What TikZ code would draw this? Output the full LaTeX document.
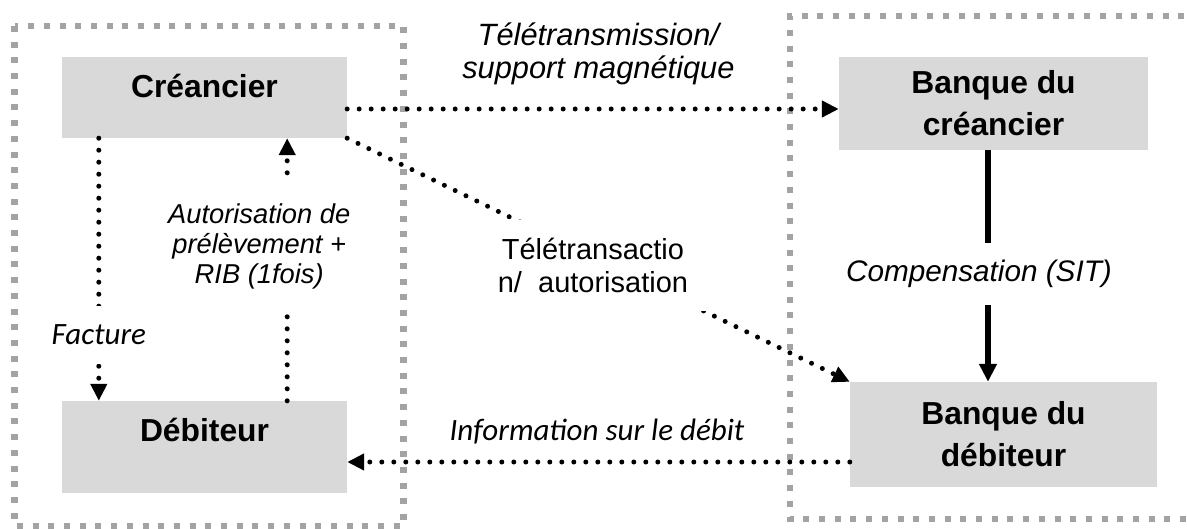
\documentclass[tikz,border=0pt]{standalone}
\usepackage{fontspec}
\setmainfont{Liberation Sans}
\newfontfamily\calibri{Carlito}
\usetikzlibrary{arrows.meta, positioning}
\definecolor{boxgray}{HTML}{D9D9D9}
\definecolor{framegray}{HTML}{A3A3A3}

\begin{document}
\begin{tikzpicture}[x=1pt, y=-1pt, every node/.style={inner sep=0pt},
  acteur/.style={fill=boxgray, align=center, font=\bfseries\fontsize{31.8}{42}\selectfont},
  cadre/.style={draw=framegray, line width=6.5pt, dash pattern=on 6pt off 9.7pt},
  flux/.style={line width=5pt, line cap=round, dash pattern=on 0pt off 12pt, -{Triangle[length=17pt,width=16pt]}},
  fort/.style={line width=6pt, -{Triangle[length=18pt,width=17pt]}},
  lib/.style={fill=white, align=center}]
\useasboundingbox (0,0) rectangle (1187,529);
\draw[cadre] (14.5,26) rectangle (403.5,526);
\draw[cadre] (1200,16) -- (790,16) -- (790,519) -- (1200,519);

\node[acteur, minimum width=285pt, minimum height=81pt, text height=24pt, text depth=24pt] (cre) at (204.5,97.5) {Créancier};
\node[acteur, minimum width=285pt, minimum height=92pt, text height=24pt, text depth=34pt] (deb) at (204.5,447) {Débiteur};
\node[acteur, minimum width=309pt, minimum height=93pt] (bcre) at (993.5,103.5) {Banque du\\créancier};
\node[acteur, minimum width=307pt, minimum height=105pt] (bdeb) at (1003.5,434.5) {Banque du\\débiteur};

\coordinate (telestart) at ([yshift=-11.5pt]cre.east);
\coordinate (infostart) at ([yshift=-27.5pt]bdeb.west);

\draw[flux] (telestart) -- node[pos=0.511, above=22pt, align=center, font=\itshape\fontsize{30.8}{33}\selectfont] (teletrans) {Télétransmission/\\support magnétique} (telestart -| bcre.west);
\draw[flux] (cre.south east) -- node[lib, pos=0.489, yshift=-8.5pt, inner xsep=18pt, inner ysep=18pt, font=\fontsize{29}{33}\selectfont] (teletrx) {Télétransactio\\n/\ \ autorisation} (bdeb.north west);
\draw[flux] ([xshift=37pt]cre.south west) -- node[lib, pos=0.749, inner ysep=19pt, font=\calibri\itshape\fontsize{31}{36}\selectfont] (facture) {Facture} ([xshift=37pt]deb.north west);
\draw[flux] ([xshift=-60pt]deb.north east) -- node[lib, pos=0.586, xshift=-28pt, inner ysep=22pt, font=\itshape\fontsize{27.3}{30}\selectfont] (autor) {Autorisation de\\prélèvement +\\RIB (1fois)} ([xshift=-60pt]cre.south east);
\draw[fort] ([xshift=-5.5pt]bcre.south) -- node[lib, pos=0.534, xshift=-9pt, inner ysep=17pt, font=\itshape\fontsize{29.7}{34}\selectfont] (compens) {Compensation (SIT)} ([xshift=-15.5pt]bdeb.north);
\draw[flux] (infostart) -- node[pos=0.503, anchor=base, yshift=22pt, font=\calibri\itshape\fontsize{31}{36}\selectfont] (info) {Information sur le débit} (infostart -| deb.east);
\end{tikzpicture}
\end{document}
